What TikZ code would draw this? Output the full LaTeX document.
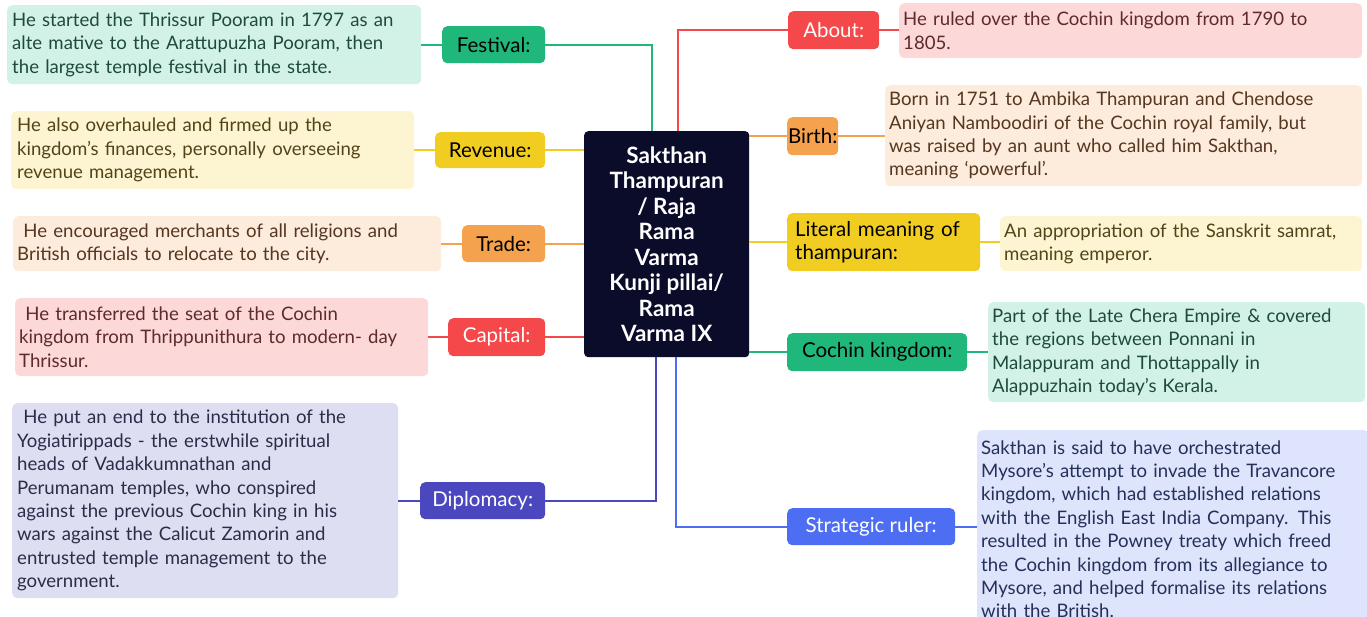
\documentclass[tikz,border=0pt]{standalone}
\usepackage{fontspec}
\setmainfont{Lato}
\definecolor{gL}{HTML}{1FB77A}\definecolor{gB}{HTML}{D3F2E7}\definecolor{gT}{HTML}{1E4A3C}
\definecolor{yL}{HTML}{F1CD22}\definecolor{yB}{HTML}{FDF5D2}\definecolor{yT}{HTML}{524418}
\definecolor{oL}{HTML}{F4A24D}\definecolor{oB}{HTML}{FDEBDC}\definecolor{oT}{HTML}{553620}
\definecolor{rL}{HTML}{F4484A}\definecolor{rB}{HTML}{FDD8D9}\definecolor{rT}{HTML}{5E2A2C}
\definecolor{iL}{HTML}{4B48BF}\definecolor{iB}{HTML}{DDDEF2}\definecolor{iT}{HTML}{2C2C48}
\definecolor{bL}{HTML}{4D6EF3}\definecolor{bB}{HTML}{DDE4FB}\definecolor{bT}{HTML}{25305A}
\definecolor{navy}{HTML}{0B0B2A}
\begin{document}
\begin{tikzpicture}[x=1pt,y=-1pt,
  txt/.style={anchor=north west,rounded corners=5pt,inner sep=0pt,align=left,
    font=\fontsize{18.6}{23.4}\selectfont},
  lab/.style={anchor=north west,rounded corners=5pt,inner sep=0pt,align=center,
    font=\fontsize{20.5}{23.5}\selectfont},
  conn/.style={line width=1.8pt}]
\useasboundingbox (0,0) rectangle (1367,617);
% centre
\node[anchor=north west,fill=navy,rounded corners=4pt,minimum width=165pt,minimum height=226pt,
  inner sep=0pt,align=center,text=white,font=\fontsize{22.5}{25.5}\selectfont\bfseries] (c) at (584,131)
  {Sakthan\\Thampuran\\/ Raja\\Rama\\Varma\\Kunji pillai/\\Rama\\Varma IX};
% left labels
\node[lab,fill=gL,minimum width=103pt,minimum height=37pt] (fest) at (442,26) {Festival:};
\node[lab,fill=yL,minimum width=110pt,minimum height=36pt] (rev) at (435,132) {Revenue:};
\node[lab,fill=oL,minimum width=83pt,minimum height=37pt] (trade) at (462,225) {Trade:};
\node[lab,fill=rL,text=white,minimum width=97pt,minimum height=38pt] (cap) at (448,318) {Capital:};
\node[lab,fill=iL,text=white,minimum width=125pt,minimum height=37pt] (dip) at (420,482) {Diplomacy:};
% right labels
\node[lab,fill=rL,text=white,minimum width=91pt,minimum height=38pt] (about) at (788,11) {About:};
\node[lab,fill=oL,minimum width=51pt,minimum height=38pt] (birth) at (787,117) {Birth:};
\node[lab,fill=yL,minimum width=193pt,minimum height=58pt,text width=177pt,align=left] (lit) at (787,213) {Literal meaning of\\thampuran:};
\node[lab,fill=gL,minimum width=180pt,minimum height=38pt] (coch) at (787,333) {Cochin kingdom:};
\node[lab,fill=bL,text=white,minimum width=168pt,minimum height=37pt] (strat) at (787,508) {Strategic ruler:};
% left text boxes
\node[txt,fill=gB,text=gT,minimum width=414pt,minimum height=79pt,text width=404pt] (festT) at (7,5)
  {He started the Thrissur Pooram in 1797 as an\\alte mative to the Arattupuzha Pooram, then\\the largest temple festival in the state.};
\node[txt,fill=yB,text=yT,minimum width=403pt,minimum height=78pt,text width=391pt] (revT) at (11,111)
  {He also overhauled and firmed up the\\kingdom's finances, personally overseeing\\revenue management.};
\node[txt,fill=oB,text=oT,minimum width=428pt,minimum height=55pt,text width=420pt] (tradeT) at (13,216)
  {\ He encouraged merchants of all religions and\\British officials to relocate to the city.};
\node[txt,fill=rB,text=rT,minimum width=413pt,minimum height=78pt,text width=405pt] (capT) at (15,298)
  {\ He transferred the seat of the Cochin\\kingdom from Thrippunithura to modern- day\\Thrissur.};
\node[txt,fill=iB,text=iT,minimum width=386pt,minimum height=195pt,text width=376pt] (dipT) at (12,403)
  {\ He put an end to the institution of the\\Yogiatirippads - the erstwhile spiritual\\heads of Vadakkumnathan and\\Perumanam temples, who conspired\\against the previous Cochin king in his\\wars against the Calicut Zamorin and\\entrusted temple management to the\\government.};
% right text boxes
\node[txt,fill=rB,text=rT,minimum width=463pt,minimum height=55pt,text width=455pt] (aboutT) at (899,3)
  {He ruled over the Cochin kingdom from 1790 to\\1805.};
\node[txt,fill=oB,text=oT,minimum width=477pt,minimum height=101pt,text width=469pt] (birthT) at (885,85)
  {Born in 1751 to Ambika Thampuran and Chendose\\Aniyan Namboodiri of the Cochin royal family, but\\was raised by an aunt who called him Sakthan,\\meaning `powerful'.};
\node[txt,fill=yB,text=yT,minimum width=362pt,minimum height=55pt,text width=354pt] (litT) at (1000,216)
  {An appropriation of the Sanskrit samrat,\\meaning emperor.};
\node[txt,fill=gB,text=gT,minimum width=377pt,minimum height=100pt,text width=369pt] (cochT) at (988,302)
  {Part of the Late Chera Empire \& covered\\the regions between Ponnani in\\Malappuram and Thottappally in\\Alappuzhain today's Kerala.};
\node[txt,fill=bB,text=bT,minimum width=392pt,minimum height=198pt,text width=384pt] (stratT) at (977,430)
  {Sakthan is said to have orchestrated\\Mysore's attempt to invade the Travancore\\kingdom, which had established relations\\with the English East India Company. This\\resulted in the Powney treaty which freed\\the Cochin kingdom from its allegiance to\\Mysore, and helped formalise its relations\\with the British.};
% connector coordinates
\coordinate (cA) at (652,131);
\coordinate (cB) at (678,131);
\coordinate (cC) at (656,357);
\coordinate (cD) at (676,357);
% connectors centre-label
\draw[conn,gL] (fest.east) -| (cA);
\draw[conn,yL] (rev.east) -- (rev.east -| c.west);
\draw[conn,oL] (trade.east) -- (trade.east -| c.west);
\draw[conn,rL] (cap.east) -- (cap.east -| c.west);
\draw[conn,iL] (dip.east) -| (cC);
\draw[conn,rL] (about.west) -| (cB);
\draw[conn,oL] (birth.west -| c.east) -- (birth.west);
\draw[conn,yL] (lit.west -| c.east) -- (lit.west);
\draw[conn,gL] (coch.west -| c.east) -- (coch.west);
\draw[conn,bL] (cD) |- (strat.west);
% connectors label-text
\draw[conn,gL] (festT.east |- fest.west) -- (fest.west);
\draw[conn,yL] (revT.east |- rev.west) -- (rev.west);
\draw[conn,oL] (tradeT.east |- trade.west) -- (trade.west);
\draw[conn,rL] (capT.east |- cap.west) -- (cap.west);
\draw[conn,iL] (dipT.east |- dip.west) -- (dip.west);
\draw[conn,rL] (about.east) -- (about.east -| aboutT.west);
\draw[conn,oL] (birth.east) -- (birth.east -| birthT.west);
\draw[conn,yL] (lit.east) -- (lit.east -| litT.west);
\draw[conn,gL] (coch.east) -- (coch.east -| cochT.west);
\draw[conn,bL] (strat.east) -- (strat.east -| stratT.west);
\end{tikzpicture}
\end{document}
